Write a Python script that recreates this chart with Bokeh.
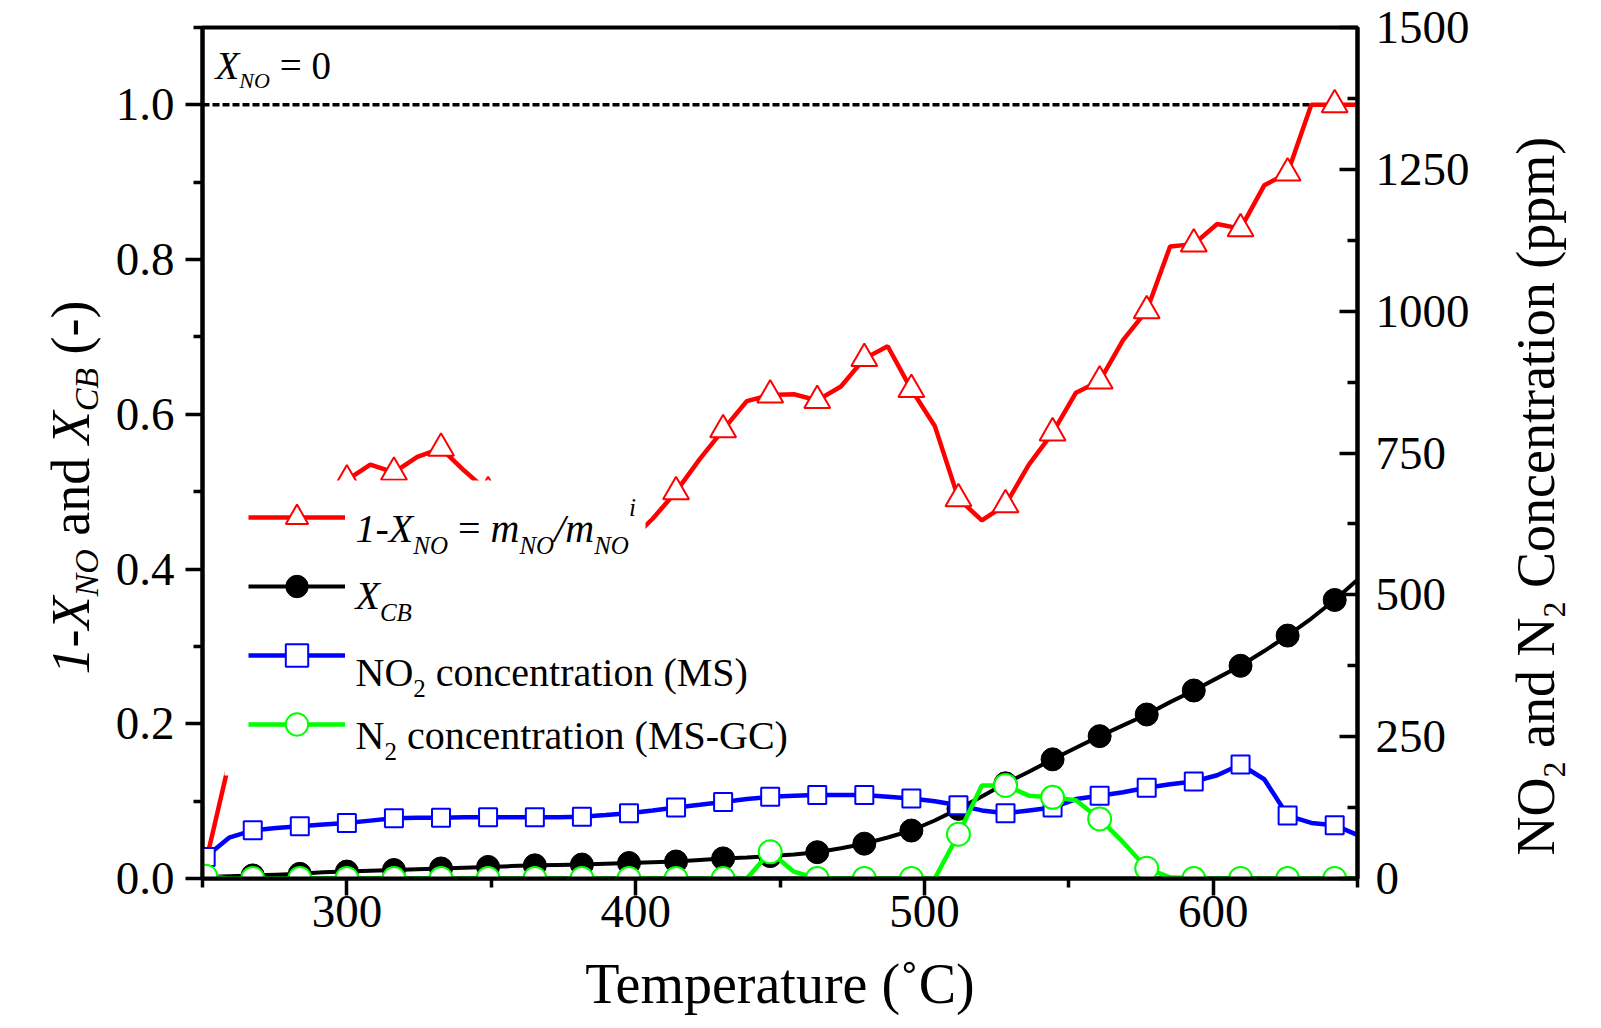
import math
from bokeh.plotting import figure
from bokeh.layouts import row
from bokeh.models import (Range1d, LinearAxis, FixedTicker, NumeralTickFormatter, Span,
                          Label, Legend, LegendItem, BoxAnnotation)
from bokeh.embed import file_html
from bokeh.resources import INLINE

# ---------------- data ----------------
temperature = [251.1, 259.2, 267.4, 275.5, 283.7, 291.8, 300.0, 308.1, 316.3, 324.4,
               332.6, 340.7, 348.9, 357.0, 365.1, 373.3, 381.4, 389.6, 397.7, 405.9,
               414.0, 422.2, 430.3, 438.5, 446.6, 454.8, 462.9, 471.1, 479.2, 487.3,
               495.5, 503.6, 511.8, 519.9, 528.1, 536.2, 544.4, 552.5, 560.7, 568.8,
               577.0, 585.1, 593.3, 601.4, 609.5, 617.7, 625.8, 634.0, 642.1, 650.3]

one_minus_x_no = [0.02, 0.15, 0.27, 0.37, 0.44, 0.48, 0.515, 0.535, 0.525, 0.545,
                  0.556, 0.527, 0.50, 0.48, 0.47, 0.46, 0.45, 0.44, 0.435, 0.465,
                  0.50, 0.542, 0.58, 0.617, 0.625, 0.626, 0.618, 0.636, 0.672, 0.688,
                  0.632, 0.585, 0.491, 0.463, 0.483, 0.535, 0.576, 0.628, 0.643, 0.696,
                  0.734, 0.817, 0.820, 0.846, 0.840, 0.896, 0.912, 1.0, 1.0, 1.0]

x_cb = [0.002, 0.003, 0.004, 0.005, 0.006, 0.008, 0.009, 0.010, 0.011, 0.012,
        0.013, 0.014, 0.015, 0.016, 0.017, 0.0175, 0.018, 0.019, 0.020, 0.021,
        0.022, 0.024, 0.026, 0.027, 0.029, 0.031, 0.034, 0.039, 0.045, 0.053,
        0.062, 0.075, 0.090, 0.106, 0.123, 0.138, 0.154, 0.169, 0.184, 0.198,
        0.212, 0.228, 0.243, 0.259, 0.275, 0.294, 0.314, 0.336, 0.360, 0.387]

no2_ppm = [38, 72, 85, 89, 92, 95, 98, 102, 106, 107,
           107, 108, 108, 108, 108, 108, 109, 112, 115, 120,
           125, 130, 135, 140, 144, 146, 147, 147, 147, 144,
           141, 136, 129, 120, 115, 120, 125, 140, 146, 152,
           160, 166, 171, 182, 201, 175, 111, 98, 94, 76]

n2_ppm = [4, 0, 0, 0, 0, 0, 0, 0, 0, 0,
          0, 0, 0, 0, 0, 0, 0, 0, 0, 0,
          0, 0, 0, 0, 47, 12, 0, 0, 0, 0,
          0, 0, 78, 164, 164, 146, 143, 138, 105, 64,
          18, 2, 0, 0, 0, 0, 0, 0, 0, 0]

ref_level = 1.0  # X_NO = 0 reference line

x_major = [300, 400, 500, 600]
x_minor = [250, 350, 450, 550, 650]
left_major = [0.0, 0.2, 0.4, 0.6, 0.8, 1.0]
left_minor = [0.1, 0.3, 0.5, 0.7, 0.9, 1.1]
right_major = [0, 250, 500, 750, 1000, 1250, 1500]
right_minor = [125, 375, 625, 875, 1125, 1375]

# ---------------- layout (page pixels) ----------------
FONT = "Liberation Serif"
PAGE_W, PAGE_H = 1601, 1028
FL, FR, FT, FB = 202, 1357, 27, 878      # plot frame edges
MAIN_L, MAIN_R = 110, 1473               # main figure horizontal extent
X0, X1, Y0, Y1 = 250, 650, 0.0, 1.1

def dx(px):
    return X0 + (px - FL) * (X1 - X0) / (FR - FL)

def dy(py):
    return Y0 + (FB - py) * (Y1 - Y0) / (FB - FT)

p = figure(width=MAIN_R - MAIN_L, height=PAGE_H, x_range=Range1d(X0, X1), y_range=Range1d(Y0, Y1),
           title=None, output_backend="svg", toolbar_location=None,
           min_border_left=FL - MAIN_L, min_border_right=MAIN_R - FR,
           min_border_top=FT, min_border_bottom=PAGE_H - FB)
p.extra_y_ranges = {"ppm": Range1d(0, 1500)}
p.xgrid.visible = False
p.ygrid.visible = False
p.outline_line_color = "black"
p.outline_line_width = 4
p.outline_line_alpha = 1.0
p.background_fill_color = "white"
p.border_fill_color = "white"

def style_axis(ax, t_in, t_out, m_in, m_out, standoff):
    ax.axis_line_color = "black"
    ax.axis_line_width = 4
    ax.major_tick_line_color = "black"
    ax.minor_tick_line_color = "black"
    ax.major_tick_line_width = 3.5
    ax.minor_tick_line_width = 3.5
    ax.major_tick_in = t_in
    ax.major_tick_out = t_out
    ax.minor_tick_in = m_in
    ax.minor_tick_out = m_out
    ax.major_label_text_font = FONT
    ax.major_label_text_font_size = "47px"
    ax.major_label_text_color = "black"
    ax.major_label_standoff = standoff
    ax.axis_label = None

xax = p.below[0]
xax.ticker = FixedTicker(ticks=x_major, minor_ticks=x_minor)
style_axis(xax, 0, 17, 0, 9, 0)
xax.axis_label = "Temperature (˚C)"
xax.axis_label_text_font = FONT
xax.axis_label_text_font_size = "56px"
xax.axis_label_text_font_style = "normal"
xax.axis_label_text_color = "black"
xax.axis_label_standoff = 23

lax = p.left[0]
lax.ticker = FixedTicker(ticks=left_major, minor_ticks=left_minor)
lax.formatter = NumeralTickFormatter(format="0.0")
style_axis(lax, 0, 17, 0, 9, 11)

rax = LinearAxis(y_range_name="ppm", ticker=FixedTicker(ticks=right_major, minor_ticks=right_minor))
style_axis(rax, 18, 0, 10, 0, 18)
p.add_layout(rax, "right")

# reference line at 1-X_NO = 1
p.add_layout(Span(location=ref_level, dimension="width", line_color="black",
                  line_width=3.5, line_dash="7 3", level="underlay"))

# ---------------- series ----------------
RED, BLUE, GREEN = "#ff0000", "#0000ff", "#00ff00"

r_red_l = p.line(temperature, one_minus_x_no, line_color=RED, line_width=4.5)
r_red_m = p.scatter(temperature[2::2], one_minus_x_no[2::2], marker="triangle", size=26,
                    line_color=RED, line_width=2, fill_color="white")

r_blk_l = p.line(temperature, x_cb, line_color="black", line_width=4)
r_blk_m = p.scatter(temperature[::2], x_cb[::2], marker="circle", size=23,
                    line_color="black", fill_color="black")

r_blu_l = p.line(temperature, no2_ppm, line_color=BLUE, line_width=4.5, y_range_name="ppm")
r_blu_m = p.scatter(temperature[::2], no2_ppm[::2], marker="square", size=18, y_range_name="ppm",
                    line_color=BLUE, line_width=2, fill_color="white")

r_grn_l = p.line(temperature, n2_ppm, line_color=GREEN, line_width=4.5, y_range_name="ppm")
r_grn_m = p.scatter(temperature[::2], n2_ppm[::2], marker="circle", size=23, y_range_name="ppm",
                    line_color=GREEN, line_width=2, fill_color="white")

# white panel behind the legend (hides the curve there, as in the reference)
p.add_layout(BoxAnnotation(left=dx(224), right=dx(645), top=dy(480), bottom=dy(775),
                           fill_color="white", fill_alpha=1.0, line_alpha=0.0))

LEG_L, LEG_B = 239, 761
legend = Legend(items=[LegendItem(label=" ", renderers=[r_red_l, r_red_m]),
                       LegendItem(label=" ", renderers=[r_blk_l, r_blk_m]),
                       LegendItem(label=" ", renderers=[r_blu_l, r_blu_m]),
                       LegendItem(label=" ", renderers=[r_grn_l, r_grn_m])],
                location=(LEG_L - FL, FB - LEG_B), orientation="vertical",
                padding=9, spacing=13, margin=0,
                glyph_width=97, glyph_height=56, label_height=56, label_width=281,
                label_standoff=10, label_text_font_size="12px",
                background_fill_alpha=0.0, border_line_alpha=0.0)
p.add_layout(legend, "center")

# ---------------- rich text helpers ----------------
REG = {' ': 250, '(': 333, ')': 333, '-': 333, '=': 564, '0': 500, '2': 500, 'N': 722,
       'O': 722, 'C': 667, 'M': 889, 'S': 556, 'G': 722, 'T': 611, 'a': 444, 'c': 444,
       'd': 500, 'e': 444, 'i': 278, 'm': 778, 'n': 500, 'o': 500, 'p': 500, 'r': 333,
       't': 278, 'u': 500, '˚': 333}
ITA = {'1': 500, '-': 333, 'X': 611, 'N': 667, 'O': 722, 'C': 667, 'B': 611, 'm': 722,
       '/': 278, 'i': 278, ' ': 250}

def text_width(s, size, italic):
    table = ITA if italic else REG
    return sum(table.get(ch, 500) for ch in s) * size / 1000.0

def make_text_fig(x0p, x1p):
    # same top/bottom borders as the main plot, so its frame spans page rows FT..FB
    f = figure(width=x1p - x0p, height=PAGE_H, title=None,
               x_range=Range1d(x0p, x1p), y_range=Range1d(-FB, -FT),
               output_backend="svg", toolbar_location=None,
               x_axis_location=None, y_axis_location=None,
               min_border=0, min_border_left=0, min_border_right=0,
               min_border_top=FT, min_border_bottom=PAGE_H - FB)
    f.xgrid.visible = False
    f.ygrid.visible = False
    f.outline_line_alpha = 0.0
    f.background_fill_color = "white"
    f.border_fill_color = "white"
    return f

def add_text(fig, x, y, s, size, italic=False, angle=0.0, align="left", main=False):
    xx, yy = (dx(x), dy(y)) if main else (x, -y)
    fig.add_layout(Label(x=xx, y=yy, text=s, angle=angle,
                         text_font=FONT, text_font_size=f"{size}px",
                         text_font_style="italic" if italic else "normal",
                         text_color="black", text_align=align,
                         text_baseline="alphabetic"))

def rich(fig, px, py, runs, vertical=False, main=False):
    pos = 0.0
    for s, size, italic, shift in runs:
        core = s.strip(" ")
        lead = len(s) - len(s.lstrip(" "))
        pos += text_width(" " * lead, size, italic)
        if vertical:
            add_text(fig, px + shift, py - pos, core, size, italic, math.pi / 2, main=main)
        else:
            add_text(fig, px + pos, py + shift, core, size, italic, main=main)
        pos += text_width(s.lstrip(" "), size, italic)

I, R = True, False

# inset annotation and legend texts (inside the main plot)
rich(p, 215, 65, [("X", 39, I, 0), ("NO", 22, I, 15), (" = 0", 39, R, 0)], main=True)
rich(p, 355, 528, [("1-X", 40, I, 0), ("NO", 25, I, 17), (" = ", 40, R, 0), ("m", 40, I, 0),
                   ("NO", 25, I, 17), ("/m", 40, I, 0), ("NO", 25, I, 17), ("i", 25, I, -21)], main=True)
rich(p, 355, 595, [("X", 40, I, 0), ("CB", 25, I, 17)], main=True)
rich(p, 355, 672, [("NO", 40, R, 0), ("2", 25, R, 16), (" concentration (MS)", 40, R, 0)], main=True)
rich(p, 355, 735, [("N", 40, R, 0), ("2", 25, R, 16), (" concentration (MS-GC)", 40, R, 0)], main=True)

# y-axis titles in narrow text panels on both sides of the plot
left_fig = make_text_fig(0, MAIN_L)
rich(left_fig, 70, 674, [("1-X", 54, I, 0), ("NO", 34, I, 16), (" and ", 54, R, 0),
                         ("X", 54, I, 0), ("CB", 34, I, 16), (" (-)", 54, R, 0)], vertical=True)

right_fig = make_text_fig(MAIN_R, PAGE_W)
rich(right_fig, 1535, 855, [("NO", 54, R, 0), ("2", 32, R, 19), (" and N", 54, R, 0),
                            ("2", 32, R, 19), (" Concentration (ppm)", 54, R, 0)], vertical=True)

layout = row(left_fig, p, right_fig)
open("out.html", "w").write(file_html(layout, INLINE, "chart"))
